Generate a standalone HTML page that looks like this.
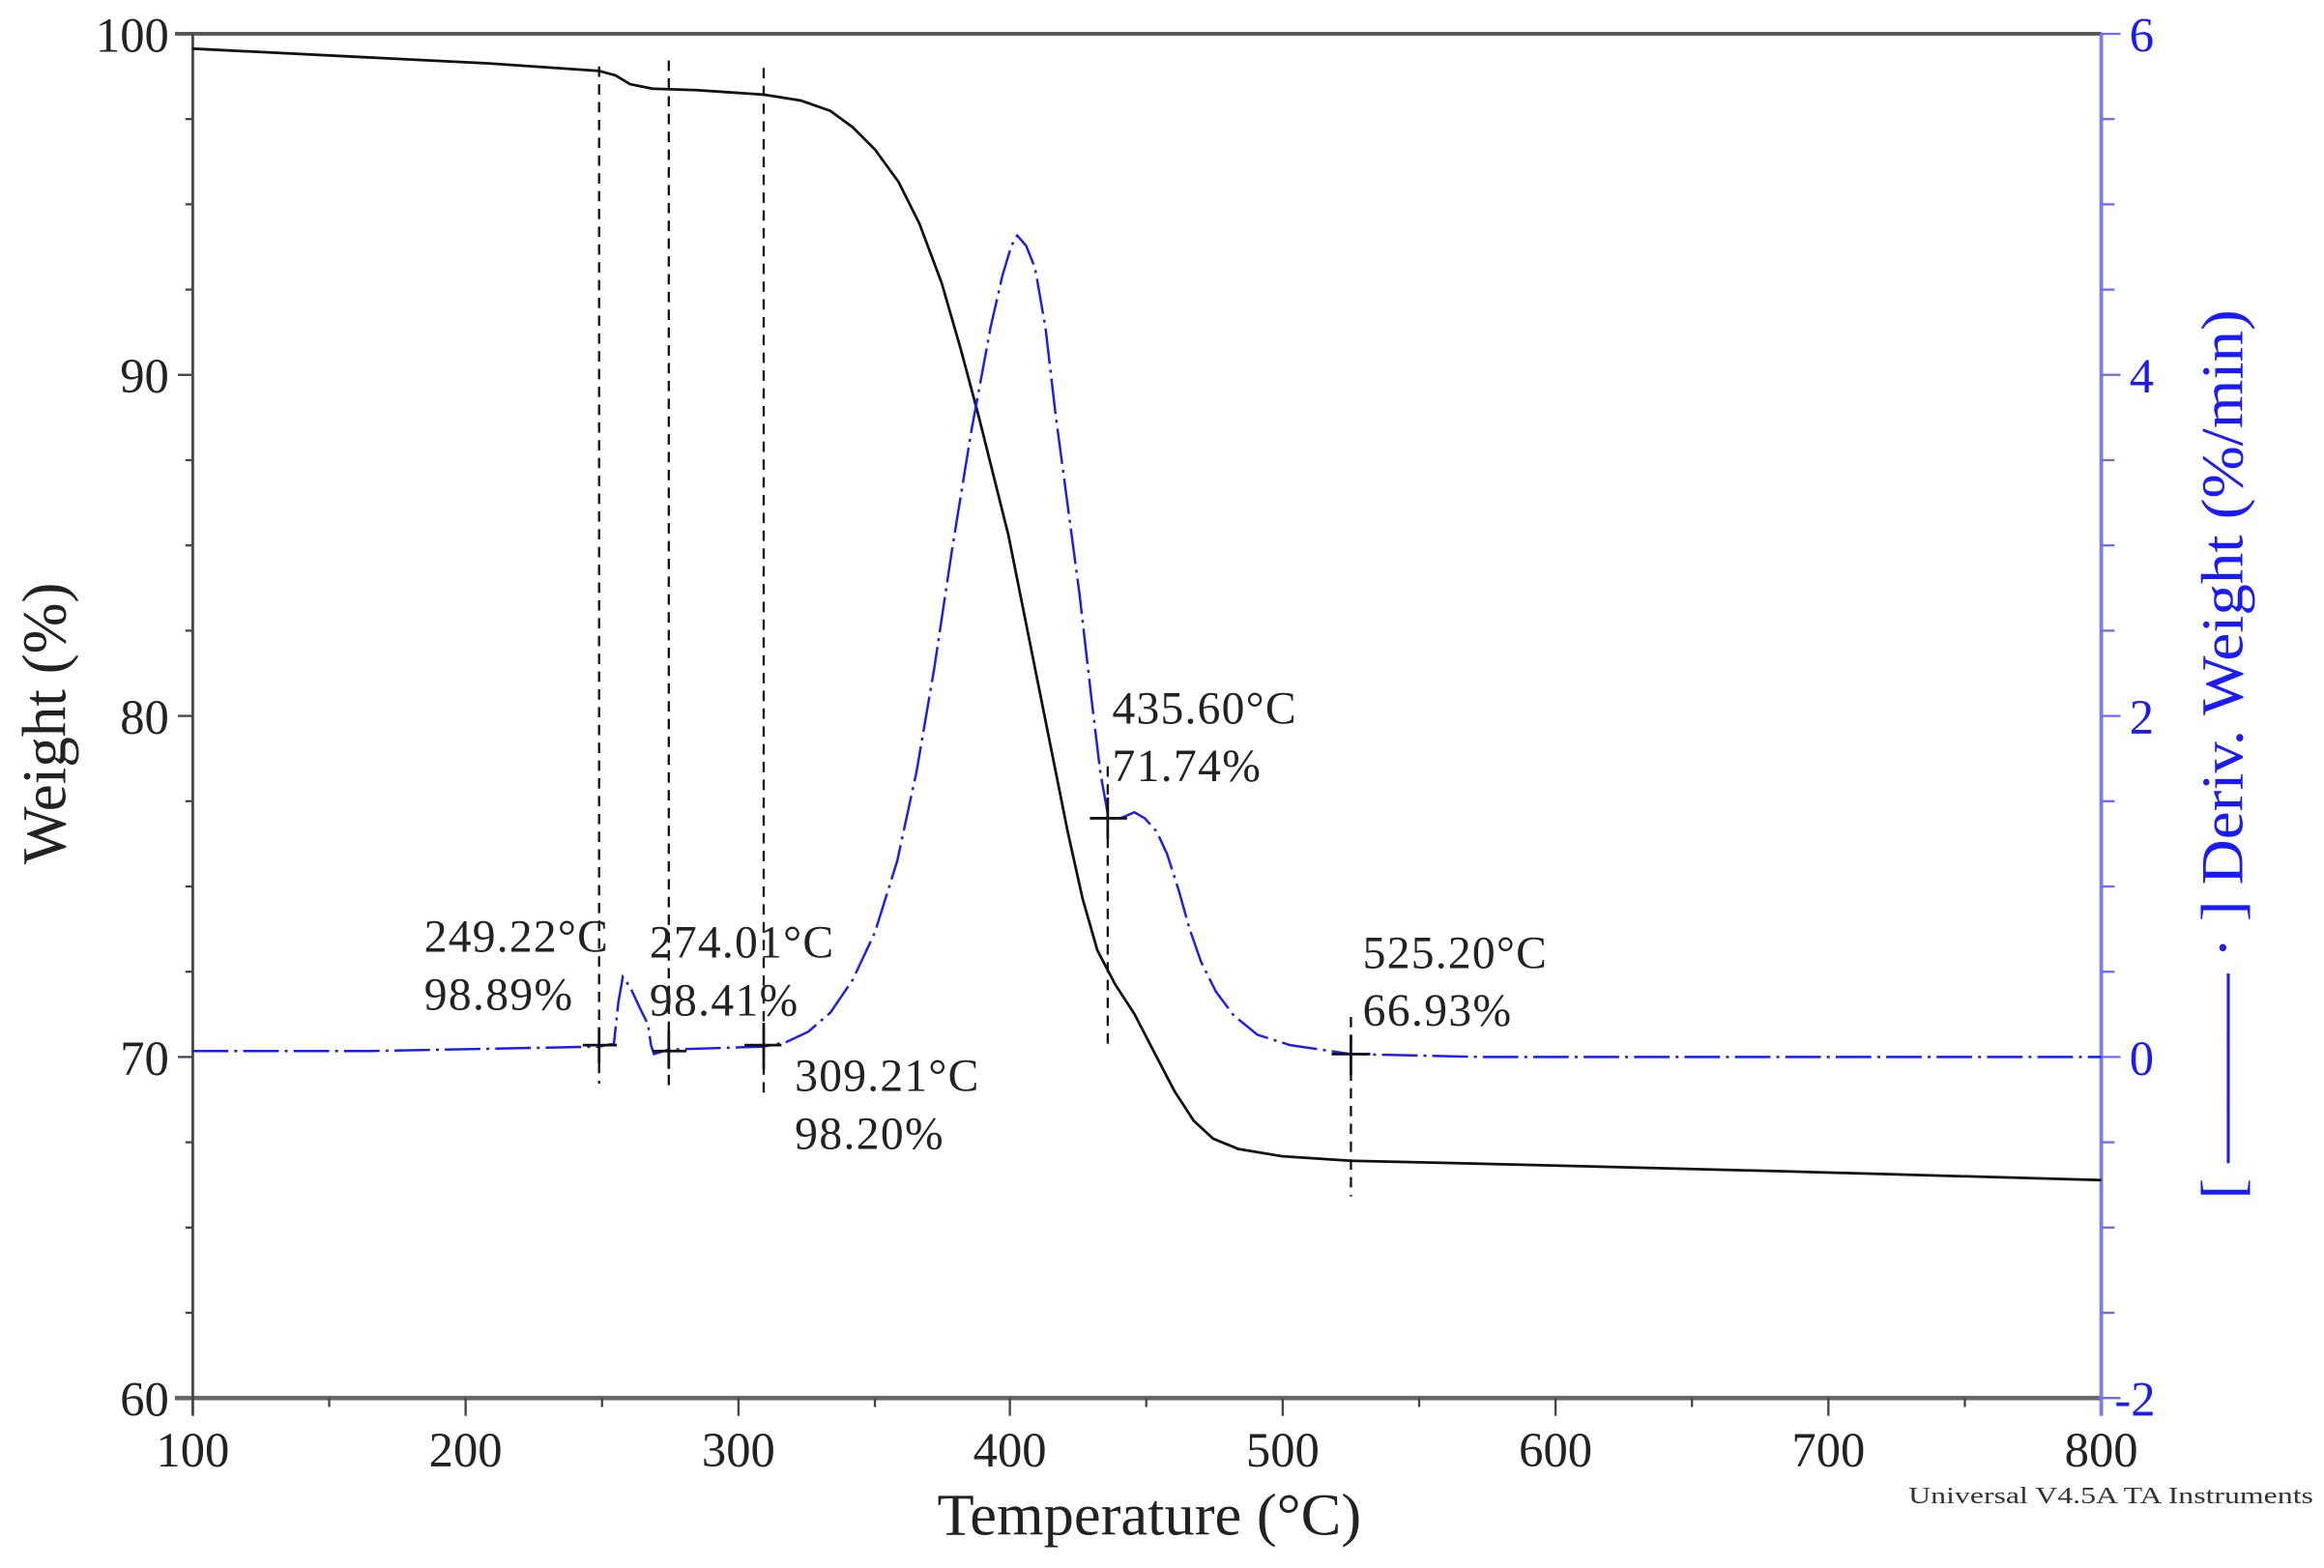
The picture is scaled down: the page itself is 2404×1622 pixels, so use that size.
<!DOCTYPE html>
<html><head><meta charset="utf-8"><style>
html,body{margin:0;padding:0;background:#fff;}
svg{display:block;}
text{font-family:"Liberation Serif",serif;}
</style></head><body>
<svg width="2404" height="1622" viewBox="0 -0.8 1567.2 1057.4" preserveAspectRatio="none" xmlns="http://www.w3.org/2000/svg">
<line x1="118" y1="22" x2="1417" y2="22" stroke="#555" stroke-width="2.5"/>
<line x1="118" y1="942" x2="1417" y2="942" stroke="#666" stroke-width="3"/>
<line x1="130" y1="22" x2="130" y2="954" stroke="#444" stroke-width="1.8"/>
<line x1="1417" y1="22" x2="1417" y2="954" stroke="#7a7aff" stroke-width="2.5"/>
<g stroke="#444" stroke-width="1.5">
<line x1="120" y1="252" x2="130" y2="252"/><line x1="120" y1="482" x2="130" y2="482"/><line x1="120" y1="712" x2="130" y2="712"/>
<line x1="125" y1="79.5" x2="130" y2="79.5"/><line x1="125" y1="137" x2="130" y2="137"/><line x1="125" y1="194.5" x2="130" y2="194.5"/>
<line x1="125" y1="309.5" x2="130" y2="309.5"/><line x1="125" y1="367" x2="130" y2="367"/><line x1="125" y1="424.5" x2="130" y2="424.5"/>
<line x1="125" y1="539.5" x2="130" y2="539.5"/><line x1="125" y1="597" x2="130" y2="597"/><line x1="125" y1="654.5" x2="130" y2="654.5"/>
<line x1="125" y1="769.5" x2="130" y2="769.5"/><line x1="125" y1="827" x2="130" y2="827"/><line x1="125" y1="884.5" x2="130" y2="884.5"/>
<line x1="314" y1="942" x2="314" y2="954"/><line x1="498" y1="942" x2="498" y2="954"/><line x1="681" y1="942" x2="681" y2="954"/><line x1="865" y1="942" x2="865" y2="954"/><line x1="1049" y1="942" x2="1049" y2="954"/><line x1="1233" y1="942" x2="1233" y2="954"/>
<line x1="222" y1="942" x2="222" y2="948"/><line x1="406" y1="942" x2="406" y2="948"/><line x1="590" y1="942" x2="590" y2="948"/><line x1="773" y1="942" x2="773" y2="948"/><line x1="957" y1="942" x2="957" y2="948"/><line x1="1141" y1="942" x2="1141" y2="948"/><line x1="1325" y1="942" x2="1325" y2="948"/>
</g>
<g stroke="#6a6aff" stroke-width="1.5">
<line x1="1417" y1="22" x2="1430" y2="22"/><line x1="1417" y1="252" x2="1430" y2="252"/><line x1="1417" y1="482" x2="1430" y2="482"/><line x1="1417" y1="712" x2="1430" y2="712"/><line x1="1417" y1="942" x2="1430" y2="942"/>
<line x1="1417" y1="79.5" x2="1426" y2="79.5"/><line x1="1417" y1="137" x2="1426" y2="137"/><line x1="1417" y1="194.5" x2="1426" y2="194.5"/>
<line x1="1417" y1="309.5" x2="1426" y2="309.5"/><line x1="1417" y1="367" x2="1426" y2="367"/><line x1="1417" y1="424.5" x2="1426" y2="424.5"/>
<line x1="1417" y1="539.5" x2="1426" y2="539.5"/><line x1="1417" y1="597" x2="1426" y2="597"/><line x1="1417" y1="654.5" x2="1426" y2="654.5"/>
<line x1="1417" y1="769.5" x2="1426" y2="769.5"/><line x1="1417" y1="827" x2="1426" y2="827"/><line x1="1417" y1="884.5" x2="1426" y2="884.5"/>
</g>
<g font-size="33" fill="#222" text-anchor="end">
<text x="114" y="34">100</text><text x="114" y="264">90</text><text x="114" y="494">80</text><text x="114" y="724">70</text><text x="114" y="954">60</text>
</g>
<g font-size="33" fill="#222" text-anchor="middle">
<text x="130" y="988">100</text><text x="314" y="988">200</text><text x="498" y="988">300</text><text x="681" y="988">400</text><text x="865" y="988">500</text><text x="1049" y="988">600</text><text x="1233" y="988">700</text><text x="1417" y="988">800</text>
</g>
<g font-size="33" fill="#1a1aff" text-anchor="start">
<text x="1436" y="34">6</text><text x="1436" y="264">4</text><text x="1436" y="494">2</text><text x="1436" y="724">0</text><text x="1426" y="954">-2</text>
</g>
<text x="632" y="1034" font-size="40" fill="#222" textLength="286" lengthAdjust="spacingAndGlyphs">Temperature (°C)</text>
<text x="1287" y="1013" font-size="16" fill="#333" textLength="273" lengthAdjust="spacingAndGlyphs">Universal V4.5A TA Instruments</text>
<text transform="translate(44,582) rotate(-90)" font-size="42" fill="#222" textLength="190" lengthAdjust="spacingAndGlyphs">Weight (%)</text>
<text transform="translate(1512,808) rotate(-90)" font-size="40" fill="#1a1aff" textLength="600" lengthAdjust="spacingAndGlyphs">[ ——— · ] Deriv. Weight (%/min)</text>
<g stroke="#111" stroke-width="1.5" stroke-dasharray="7,5">
<line x1="404" y1="44" x2="404" y2="730"/><line x1="451" y1="40" x2="451" y2="736"/><line x1="515" y1="45" x2="515" y2="740"/><line x1="747" y1="516" x2="747" y2="706"/><line x1="911" y1="685" x2="911" y2="806"/>
</g>
<path d="M130,32 L250,38 L330,42 L404,47 L415,50 L425,56 L440,59 L470,60 L515,63 L540,67 L560,74 L575,85 L590,100 L606,122 L620,150 L635,190 L648,235 L660,280 L670,320 L680,360 L690,410 L700,460 L710,510 L720,560 L730,605 L740,640 L752,663 L765,683 L780,712 L792,735 L805,755 L818,767 L835,774 L865,779 L911,782 L1000,784 L1200,789 L1417,795" fill="none" stroke="#111" stroke-width="1.8"/>
<path d="M130,708 L250,708 L404,705 L414,703 L417,675 L420,658 L425,665 L432,680 L437,690 L439,704 L441,710 L451,707 L515,705 L530,702 L545,695 L560,682 L575,660 L590,628 L605,580 L618,520 L630,450 L642,370 L655,290 L668,220 L676,185 L682,165 L686,158 L692,165 L698,180 L705,220 L712,280 L720,340 L728,400 L736,470 L742,520 L747,548 L752,552 L758,550 L765,547 L772,551 L780,560 L787,575 L795,600 L802,625 L810,648 L820,668 L832,684 L848,697 L870,704 L911,710 L1000,712 L1417,712" fill="none" stroke="#1a1aff" stroke-width="1.6" stroke-dasharray="24,4,2,4"/>
<g stroke="#111" stroke-width="1.8">
<line x1="393" y1="704" x2="416" y2="704"/><line x1="404" y1="692" x2="404" y2="716"/>
<line x1="440" y1="708" x2="463" y2="708"/><line x1="451" y1="694" x2="451" y2="720"/>
<line x1="502" y1="704" x2="527" y2="704"/><line x1="515" y1="689" x2="515" y2="720"/>
<line x1="735" y1="551" x2="760" y2="551"/><line x1="747" y1="537" x2="747" y2="565"/>
<line x1="898" y1="710" x2="924" y2="710"/><line x1="911" y1="697" x2="911" y2="724"/>
</g>
<g font-size="31" fill="#222" lengthAdjust="spacingAndGlyphs">
<text x="286" y="641" textLength="124">249.22°C</text><text x="286" y="680" textLength="100">98.89%</text>
<text x="438" y="645" textLength="124">274.01°C</text><text x="438" y="684" textLength="100">98.41%</text>
<text x="536" y="735" textLength="124">309.21°C</text><text x="536" y="774" textLength="100">98.20%</text>
<text x="750" y="487" textLength="124">435.60°C</text><text x="750" y="526" textLength="100">71.74%</text>
<text x="919" y="652" textLength="124">525.20°C</text><text x="919" y="691" textLength="100">66.93%</text>
</g>
</svg>
</body></html>
